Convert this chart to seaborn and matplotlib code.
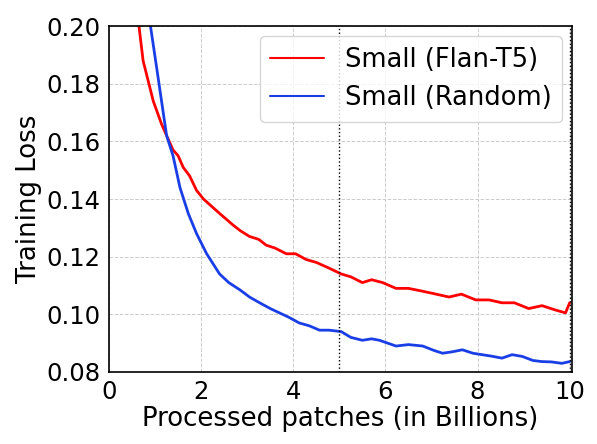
import numpy as np
import pandas as pd
import matplotlib
matplotlib.use("Agg")
import matplotlib.pyplot as plt
import seaborn as sns

# values (billions of patches, training loss)
flan_x = [0.65, 0.74, 0.85, 0.96, 1.05, 1.14, 1.25, 1.39, 1.50, 1.61, 1.75, 1.90,
          2.05, 2.19, 2.40, 2.69, 2.85, 3.05, 3.25, 3.41, 3.60, 3.85, 4.05, 4.28,
          4.50, 4.78, 5.04, 5.25, 5.50, 5.70, 5.94, 6.23, 6.50, 6.81, 7.10, 7.38,
          7.65, 7.96, 8.25, 8.53, 8.80, 9.11, 9.40, 9.69, 9.91, 10.0]
flan_y = [0.200, 0.188, 0.181, 0.174, 0.170, 0.166, 0.162, 0.157, 0.155, 0.151, 0.148, 0.143,
          0.140, 0.138, 0.135, 0.131, 0.129, 0.127, 0.126, 0.124, 0.123, 0.121, 0.121, 0.119,
          0.118, 0.116, 0.114, 0.113, 0.111, 0.112, 0.111, 0.109, 0.109, 0.108, 0.107, 0.106,
          0.107, 0.105, 0.105, 0.104, 0.104, 0.102, 0.103, 0.1015, 0.1005, 0.104]

rand_x = [0.90, 1.03, 1.14, 1.25, 1.39, 1.54, 1.72, 1.90, 2.12, 2.40, 2.60, 2.84,
          3.05, 3.27, 3.50, 3.70, 3.90, 4.13, 4.35, 4.57, 4.78, 5.04, 5.25, 5.50,
          5.70, 5.87, 6.05, 6.23, 6.50, 6.81, 7.05, 7.24, 7.45, 7.67, 7.90, 8.10,
          8.30, 8.53, 8.75, 8.97, 9.20, 9.40, 9.60, 9.83, 10.0]
rand_y = [0.200, 0.186, 0.174, 0.162, 0.155, 0.144, 0.135, 0.128, 0.121, 0.114, 0.111, 0.1085,
          0.106, 0.104, 0.102, 0.1005, 0.099, 0.097, 0.096, 0.0945, 0.0945, 0.094, 0.092, 0.091,
          0.0915, 0.091, 0.090, 0.089, 0.0895, 0.089, 0.0875, 0.0865, 0.087, 0.0877, 0.0865, 0.086,
          0.0855, 0.0848, 0.086, 0.0854, 0.084, 0.0836, 0.0835, 0.083, 0.0836]

labels = ["Small (Flan-T5)", "Small (Random)"]
colors = ["#ff0000", "#1a3ee6"]

df = pd.concat([
    pd.DataFrame({"x": flan_x, "loss": flan_y, "model": labels[0]}),
    pd.DataFrame({"x": rand_x, "loss": rand_y, "model": labels[1]}),
])

sns.set_style("white")
plt.rcParams["font.family"] = ["DejaVu Sans"]
plt.rcParams["text.color"] = "black"
plt.rcParams["axes.labelcolor"] = "black"
plt.rcParams["xtick.color"] = "black"
plt.rcParams["ytick.color"] = "black"

fig = plt.figure(figsize=(5.97, 4.44), dpi=100)
ax = fig.add_axes([0.1826, 0.1622, 0.7755, 0.7792])

sns.lineplot(data=df, x="x", y="loss", hue="model", palette=colors,
             linewidth=2.0, ax=ax)

ax.axvline(5, color="black", linestyle=":", linewidth=1)
ax.axvline(10, color="black", linestyle=":", linewidth=1)

ax.set_xlim(0, 10.05)
ax.set_ylim(0.08, 0.20)
ax.set_xticks([0, 2, 4, 6, 8, 10])
ax.set_yticks([0.08, 0.10, 0.12, 0.14, 0.16, 0.18, 0.20])
ax.yaxis.set_major_formatter(plt.FormatStrFormatter("%.2f"))
ax.grid(True, linestyle="--", color="#cccccc", linewidth=0.7)
ax.tick_params(labelsize=17.5, length=4, color="black", pad=2)
for s in ax.spines.values():
    s.set_color("black")
    s.set_linewidth(1.2)

ax.set_xlabel("Processed patches (in Billions)", fontsize=18.7, labelpad=1)
ax.set_ylabel("Training Loss", fontsize=18.7, labelpad=3)
leg = ax.legend(title=None, fontsize=18.5, loc="upper right", handlelength=2.1,
                borderaxespad=0.4)
for line in leg.get_lines():
    line.set_linewidth(1.5)

fig.savefig("out.png", dpi=100)
